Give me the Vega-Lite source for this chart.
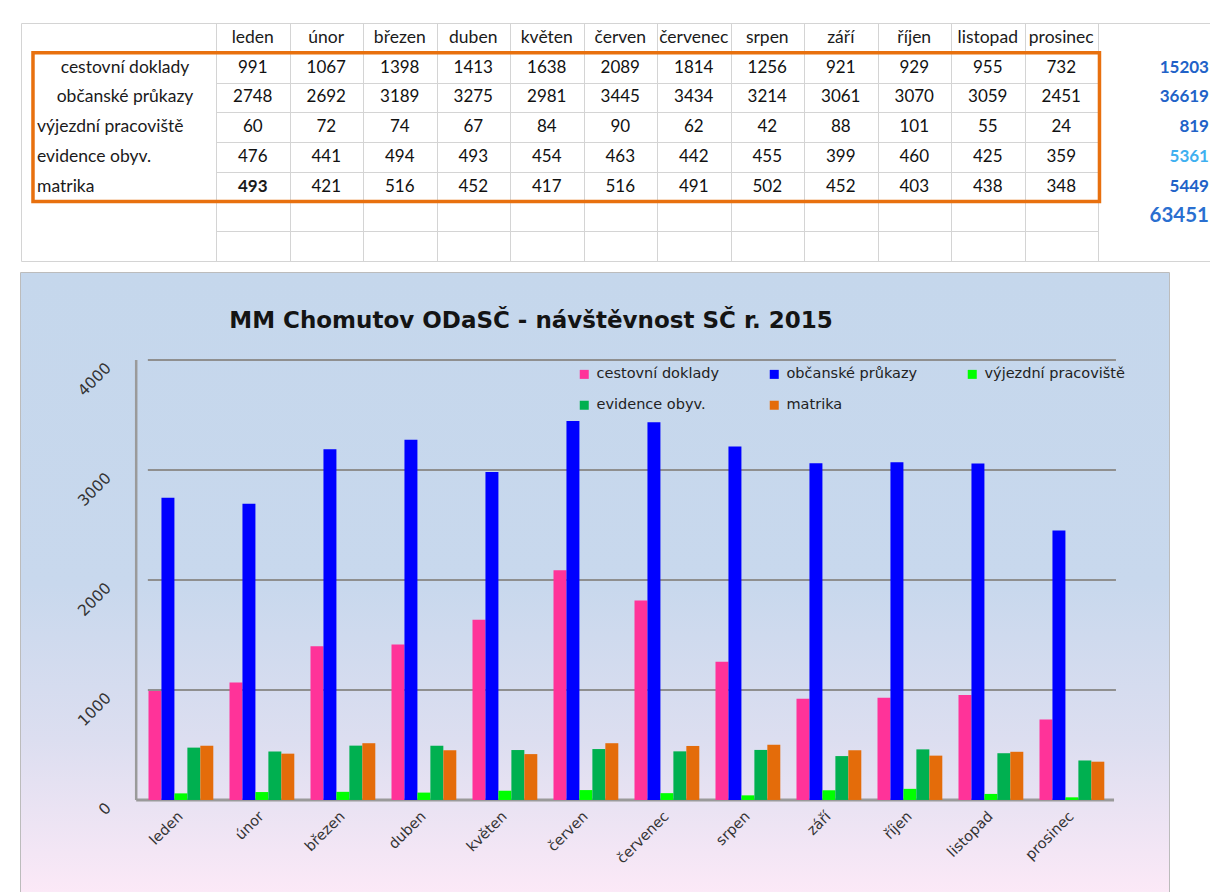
{
  "$schema": "https://vega.github.io/schema/vega-lite/v6.json",
  "background": "white",
  "padding": {"left": 20, "top": 22, "right": 0, "bottom": 0},
  "autosize": {"type": "pad"},
  "spacing": 10,
  "resolve": {"legend": {"color": "independent"}, "scale": {"x": "independent", "y": "independent", "color": "independent"}},
  "config": {"font": "Lato"},
  "datasets": {
    "visits": [
      {"series": "cestovní doklady", "month": "leden", "value": 991},
      {"series": "cestovní doklady", "month": "únor", "value": 1067},
      {"series": "cestovní doklady", "month": "březen", "value": 1398},
      {"series": "cestovní doklady", "month": "duben", "value": 1413},
      {"series": "cestovní doklady", "month": "květen", "value": 1638},
      {"series": "cestovní doklady", "month": "červen", "value": 2089},
      {"series": "cestovní doklady", "month": "červenec", "value": 1814},
      {"series": "cestovní doklady", "month": "srpen", "value": 1256},
      {"series": "cestovní doklady", "month": "září", "value": 921},
      {"series": "cestovní doklady", "month": "říjen", "value": 929},
      {"series": "cestovní doklady", "month": "listopad", "value": 955},
      {"series": "cestovní doklady", "month": "prosinec", "value": 732},
      {"series": "občanské průkazy", "month": "leden", "value": 2748},
      {"series": "občanské průkazy", "month": "únor", "value": 2692},
      {"series": "občanské průkazy", "month": "březen", "value": 3189},
      {"series": "občanské průkazy", "month": "duben", "value": 3275},
      {"series": "občanské průkazy", "month": "květen", "value": 2981},
      {"series": "občanské průkazy", "month": "červen", "value": 3445},
      {"series": "občanské průkazy", "month": "červenec", "value": 3434},
      {"series": "občanské průkazy", "month": "srpen", "value": 3214},
      {"series": "občanské průkazy", "month": "září", "value": 3061},
      {"series": "občanské průkazy", "month": "říjen", "value": 3070},
      {"series": "občanské průkazy", "month": "listopad", "value": 3059},
      {"series": "občanské průkazy", "month": "prosinec", "value": 2451},
      {"series": "výjezdní pracoviště", "month": "leden", "value": 60},
      {"series": "výjezdní pracoviště", "month": "únor", "value": 72},
      {"series": "výjezdní pracoviště", "month": "březen", "value": 74},
      {"series": "výjezdní pracoviště", "month": "duben", "value": 67},
      {"series": "výjezdní pracoviště", "month": "květen", "value": 84},
      {"series": "výjezdní pracoviště", "month": "červen", "value": 90},
      {"series": "výjezdní pracoviště", "month": "červenec", "value": 62},
      {"series": "výjezdní pracoviště", "month": "srpen", "value": 42},
      {"series": "výjezdní pracoviště", "month": "září", "value": 88},
      {"series": "výjezdní pracoviště", "month": "říjen", "value": 101},
      {"series": "výjezdní pracoviště", "month": "listopad", "value": 55},
      {"series": "výjezdní pracoviště", "month": "prosinec", "value": 24},
      {"series": "evidence obyv.", "month": "leden", "value": 476},
      {"series": "evidence obyv.", "month": "únor", "value": 441},
      {"series": "evidence obyv.", "month": "březen", "value": 494},
      {"series": "evidence obyv.", "month": "duben", "value": 493},
      {"series": "evidence obyv.", "month": "květen", "value": 454},
      {"series": "evidence obyv.", "month": "červen", "value": 463},
      {"series": "evidence obyv.", "month": "červenec", "value": 442},
      {"series": "evidence obyv.", "month": "srpen", "value": 455},
      {"series": "evidence obyv.", "month": "září", "value": 399},
      {"series": "evidence obyv.", "month": "říjen", "value": 460},
      {"series": "evidence obyv.", "month": "listopad", "value": 425},
      {"series": "evidence obyv.", "month": "prosinec", "value": 359},
      {"series": "matrika", "month": "leden", "value": 493},
      {"series": "matrika", "month": "únor", "value": 421},
      {"series": "matrika", "month": "březen", "value": 516},
      {"series": "matrika", "month": "duben", "value": 452},
      {"series": "matrika", "month": "květen", "value": 417},
      {"series": "matrika", "month": "červen", "value": 516},
      {"series": "matrika", "month": "červenec", "value": 491},
      {"series": "matrika", "month": "srpen", "value": 502},
      {"series": "matrika", "month": "září", "value": 452},
      {"series": "matrika", "month": "říjen", "value": 403},
      {"series": "matrika", "month": "listopad", "value": 438},
      {"series": "matrika", "month": "prosinec", "value": 348}
    ],
    "totals": [
      {"series": "cestovní doklady", "total": 15203},
      {"series": "občanské průkazy", "total": 36619},
      {"series": "výjezdní pracoviště", "total": 819},
      {"series": "evidence obyv.", "total": 5361},
      {"series": "matrika", "total": 5449},
      {"series": "celkem", "total": 63451}
    ],
    "gridlines": [
      {"v": 0}, {"v": 1000}, {"v": 2000}, {"v": 3000}, {"v": 4000}
    ]
  },
  "vconcat": [
    {
      "width": 1190,
      "height": 238,
      "view": {"stroke": "#d4d4d4", "strokeWidth": 1},
      "layer": [
        {
          "data": {"name": "visits"},
          "transform": [{"filter": "datum.series === 'matrika'"}],
          "mark": {"type": "text", "font": "Lato", "fontSize": 17.5, "color": "#1a1a1a"},
          "encoding": {
            "x": {"field": "month", "type": "nominal", "scale": {"domain": ["leden","únor","březen","duben","květen","červen","červenec","srpen","září","říjen","listopad","prosinec"], "paddingInner": 0, "paddingOuter": 0, "rangeMin": 195, "rangeMax": 1077}, "axis": {"orient": "top", "grid": true, "tickBand": "extent", "labels": false, "ticks": false, "domain": false, "title": null, "gridColor": "#d4d4d4", "gridWidth": 1}},
            "y": {"datum": "header", "type": "nominal", "scale": {"domain": ["header","cestovní doklady","občanské průkazy","výjezdní pracoviště","evidence obyv.","matrika","celkem","blank"], "paddingInner": 0, "paddingOuter": 0}, "axis": {"grid": true, "tickBand": "extent", "labels": false, "ticks": false, "domain": false, "title": null, "gridColor": "#d4d4d4", "gridWidth": 1}},
            "text": {"field": "month"}
          }
        },
        {
          "data": {"name": "visits"},
          "transform": [{"filter": "!(datum.series === 'matrika' && datum.month === 'leden')"}],
          "mark": {"type": "text", "font": "Lato", "fontSize": 17, "color": "#111111"},
          "encoding": {
            "x": {"field": "month", "type": "nominal", "scale": {"domain": ["leden","únor","březen","duben","květen","červen","červenec","srpen","září","říjen","listopad","prosinec"], "paddingInner": 0, "paddingOuter": 0, "rangeMin": 195, "rangeMax": 1077}, "axis": {"orient": "top", "grid": true, "tickBand": "extent", "labels": false, "ticks": false, "domain": false, "title": null, "gridColor": "#d4d4d4", "gridWidth": 1}},
            "y": {"field": "series", "type": "nominal", "scale": {"domain": ["header","cestovní doklady","občanské průkazy","výjezdní pracoviště","evidence obyv.","matrika","celkem","blank"], "paddingInner": 0, "paddingOuter": 0}, "axis": {"grid": true, "tickBand": "extent", "labels": false, "ticks": false, "domain": false, "title": null, "gridColor": "#d4d4d4", "gridWidth": 1}},
            "text": {"field": "value"}
          }
        },
        {
          "data": {"name": "visits"},
          "transform": [{"filter": "datum.series === 'matrika' && datum.month === 'leden'"}],
          "mark": {"type": "text", "font": "Lato", "fontSize": 17, "fontWeight": "bold", "color": "#1a1a1a"},
          "encoding": {
            "x": {"field": "month", "type": "nominal", "scale": {"domain": ["leden","únor","březen","duben","květen","červen","červenec","srpen","září","říjen","listopad","prosinec"], "paddingInner": 0, "paddingOuter": 0, "rangeMin": 195, "rangeMax": 1077}, "axis": {"orient": "top", "grid": true, "tickBand": "extent", "labels": false, "ticks": false, "domain": false, "title": null, "gridColor": "#d4d4d4", "gridWidth": 1}},
            "y": {"field": "series", "type": "nominal", "scale": {"domain": ["header","cestovní doklady","občanské průkazy","výjezdní pracoviště","evidence obyv.","matrika","celkem","blank"], "paddingInner": 0, "paddingOuter": 0}, "axis": {"grid": true, "tickBand": "extent", "labels": false, "ticks": false, "domain": false, "title": null, "gridColor": "#d4d4d4", "gridWidth": 1}},
            "text": {"field": "value"}
          }
        },
        {
          "data": {"name": "visits"},
          "transform": [{"filter": "datum.month === 'leden' && (datum.series === 'cestovní doklady' || datum.series === 'občanské průkazy')"}],
          "mark": {"type": "text", "font": "Lato", "fontSize": 17.5, "color": "#1a1a1a", "align": "center"},
          "encoding": {
            "x": {"datum": "leden", "type": "nominal", "bandPosition": -1.238, "scale": {"domain": ["leden","únor","březen","duben","květen","červen","červenec","srpen","září","říjen","listopad","prosinec"], "paddingInner": 0, "paddingOuter": 0, "rangeMin": 195, "rangeMax": 1077}, "axis": {"orient": "top", "grid": true, "tickBand": "extent", "labels": false, "ticks": false, "domain": false, "title": null, "gridColor": "#d4d4d4", "gridWidth": 1}},
            "y": {"field": "series", "type": "nominal", "scale": {"domain": ["header","cestovní doklady","občanské průkazy","výjezdní pracoviště","evidence obyv.","matrika","celkem","blank"], "paddingInner": 0, "paddingOuter": 0}, "axis": {"grid": true, "tickBand": "extent", "labels": false, "ticks": false, "domain": false, "title": null, "gridColor": "#d4d4d4", "gridWidth": 1}},
            "text": {"field": "series"}
          }
        },
        {
          "data": {"name": "visits"},
          "transform": [{"filter": "datum.month === 'leden' && datum.series !== 'cestovní doklady' && datum.series !== 'občanské průkazy'"}],
          "mark": {"type": "text", "font": "Lato", "fontSize": 17.5, "color": "#1a1a1a", "align": "left"},
          "encoding": {
            "x": {"datum": "leden", "type": "nominal", "bandPosition": -2.435, "scale": {"domain": ["leden","únor","březen","duben","květen","červen","červenec","srpen","září","říjen","listopad","prosinec"], "paddingInner": 0, "paddingOuter": 0, "rangeMin": 195, "rangeMax": 1077}, "axis": {"orient": "top", "grid": true, "tickBand": "extent", "labels": false, "ticks": false, "domain": false, "title": null, "gridColor": "#d4d4d4", "gridWidth": 1}},
            "y": {"field": "series", "type": "nominal", "scale": {"domain": ["header","cestovní doklady","občanské průkazy","výjezdní pracoviště","evidence obyv.","matrika","celkem","blank"], "paddingInner": 0, "paddingOuter": 0}, "axis": {"grid": true, "tickBand": "extent", "labels": false, "ticks": false, "domain": false, "title": null, "gridColor": "#d4d4d4", "gridWidth": 1}},
            "text": {"field": "series"}
          }
        },
        {
          "data": {"name": "totals"},
          "transform": [{"filter": "datum.series !== 'celkem'"}],
          "mark": {"type": "text", "font": "Lato", "fontSize": 17, "fontWeight": "bold", "align": "right"},
          "encoding": {
            "x": {"datum": "prosinec", "type": "nominal", "bandPosition": 2.51, "scale": {"domain": ["leden","únor","březen","duben","květen","červen","červenec","srpen","září","říjen","listopad","prosinec"], "paddingInner": 0, "paddingOuter": 0, "rangeMin": 195, "rangeMax": 1077}, "axis": {"orient": "top", "grid": true, "tickBand": "extent", "labels": false, "ticks": false, "domain": false, "title": null, "gridColor": "#d4d4d4", "gridWidth": 1}},
            "y": {"field": "series", "type": "nominal", "scale": {"domain": ["header","cestovní doklady","občanské průkazy","výjezdní pracoviště","evidence obyv.","matrika","celkem","blank"], "paddingInner": 0, "paddingOuter": 0}, "axis": {"grid": true, "tickBand": "extent", "labels": false, "ticks": false, "domain": false, "title": null, "gridColor": "#d4d4d4", "gridWidth": 1}},
            "text": {"field": "total"},
            "color": {"condition": {"test": "datum.series === 'evidence obyv.'", "value": "#3fb0f0"}, "value": "#2162c8"}
          }
        },
        {
          "data": {"name": "totals"},
          "transform": [{"filter": "datum.series === 'celkem'"}],
          "mark": {"type": "text", "font": "Lato", "fontSize": 20.5, "fontWeight": "bold", "align": "right", "color": "#2a6fd0"},
          "encoding": {
            "x": {"datum": "prosinec", "type": "nominal", "bandPosition": 2.51, "scale": {"domain": ["leden","únor","březen","duben","květen","červen","červenec","srpen","září","říjen","listopad","prosinec"], "paddingInner": 0, "paddingOuter": 0, "rangeMin": 195, "rangeMax": 1077}, "axis": {"orient": "top", "grid": true, "tickBand": "extent", "labels": false, "ticks": false, "domain": false, "title": null, "gridColor": "#d4d4d4", "gridWidth": 1}},
            "y": {"field": "series", "type": "nominal", "scale": {"domain": ["header","cestovní doklady","občanské průkazy","výjezdní pracoviště","evidence obyv.","matrika","celkem","blank"], "paddingInner": 0, "paddingOuter": 0}, "axis": {"grid": true, "tickBand": "extent", "labels": false, "ticks": false, "domain": false, "title": null, "gridColor": "#d4d4d4", "gridWidth": 1}},
            "text": {"field": "total"}
          }
        },
        {
          "data": {"name": "visits"},
          "transform": [{"filter": "datum.series === 'matrika' && datum.month === 'leden'"}],
          "mark": {"type": "rect", "fill": "transparent", "stroke": "#e8700e", "strokeWidth": 3.5},
          "encoding": {
            "x": {"datum": "leden", "type": "nominal", "bandPosition": -2.49, "scale": {"domain": ["leden","únor","březen","duben","květen","červen","červenec","srpen","září","říjen","listopad","prosinec"], "paddingInner": 0, "paddingOuter": 0, "rangeMin": 195, "rangeMax": 1077}, "axis": {"orient": "top", "grid": true, "tickBand": "extent", "labels": false, "ticks": false, "domain": false, "title": null, "gridColor": "#d4d4d4", "gridWidth": 1}},
            "x2": {"datum": "prosinec", "bandPosition": 1.02},
            "y": {"datum": "cestovní doklady", "type": "nominal", "bandPosition": 0, "scale": {"domain": ["header","cestovní doklady","občanské průkazy","výjezdní pracoviště","evidence obyv.","matrika","celkem","blank"], "paddingInner": 0, "paddingOuter": 0}, "axis": {"grid": true, "tickBand": "extent", "labels": false, "ticks": false, "domain": false, "title": null, "gridColor": "#d4d4d4", "gridWidth": 1}},
            "y2": {"datum": "matrika", "bandPosition": 1}
          }
        }
      ]
    },
    {
      "width": 1148,
      "height": 622,
      "view": {"stroke": "#a6a6a6", "strokeWidth": 1.5},
      "title": {"text": "MM Chomutov ODaSČ - návštěvnost  SČ r. 2015", "font": "DejaVu Sans", "fontSize": 23, "fontWeight": "bold", "color": "#141414", "anchor": "middle", "frame": "group", "offset": -78, "baseline": "alphabetic", "dx": -64},
      "layer": [
        {
          "data": {"name": "gridlines"},
          "transform": [{"filter": "datum.v === 0"}],
          "mark": {"type": "rect", "color": {"gradient": "linear", "x1": 0, "y1": 0, "x2": 0, "y2": 1, "stops": [{"offset": 0, "color": "#c5d7ec"}, {"offset": 0.5, "color": "#c8d8ed"}, {"offset": 0.75, "color": "#dcdef0"}, {"offset": 1, "color": "#fce9f7"}]}},
          "encoding": {
            "x": {"value": 0},
            "x2": {"value": "width"},
            "y": {"value": 0},
            "y2": {"value": "height"}
          }
        },
        {
          "data": {"name": "gridlines"},
          "transform": [{"filter": "datum.v > 0"}],
          "mark": {"type": "rule", "color": "#8f8f8f", "strokeWidth": 2},
          "encoding": {
            "x": {"datum": "leden", "type": "nominal", "bandPosition": -0.01, "scale": {"domain": ["leden","únor","březen","duben","květen","červen","červenec","srpen","září","říjen","listopad","prosinec"], "paddingInner": 0.2, "paddingOuter": 0.1, "rangeMin": 119.4, "rangeMax": 1091.4}, "axis": {"orient": "bottom", "offset": -87, "zindex": 2, "labelAngle": -45, "labelAlign": "right", "labelBaseline": "middle", "labelPadding": 6, "labelFont": "DejaVu Sans", "labelFontSize": 14.5, "labelColor": "#333333", "domain": false, "ticks": false, "grid": false, "title": null}},
            "x2": {"datum": "prosinec", "bandPosition": 1.18},
            "y": {"field": "v", "type": "quantitative", "scale": {"domain": [-864, 4791], "nice": false, "zero": false}, "axis": {"orient": "left", "offset": -115, "zindex": 2, "values": [0, 1000, 2000, 3000, 4000], "format": "d", "labelAngle": -45, "labelAlign": "right", "labelBaseline": "middle", "labelPadding": 28, "labelOffset": 5, "labelFont": "DejaVu Sans", "labelFontSize": 15.5, "labelColor": "#333333", "domain": false, "ticks": false, "grid": false, "title": null}}
          }
        },
        {
          "data": {"name": "gridlines"},
          "transform": [{"filter": "datum.v === 0"}],
          "mark": {"type": "rule", "color": "#9a9a9a", "strokeWidth": 3},
          "encoding": {
            "x": {"datum": "leden", "type": "nominal", "bandPosition": -0.19, "scale": {"domain": ["leden","únor","březen","duben","květen","červen","červenec","srpen","září","říjen","listopad","prosinec"], "paddingInner": 0.2, "paddingOuter": 0.1, "rangeMin": 119.4, "rangeMax": 1091.4}, "axis": {"orient": "bottom", "offset": -87, "zindex": 2, "labelAngle": -45, "labelAlign": "right", "labelBaseline": "middle", "labelPadding": 6, "labelFont": "DejaVu Sans", "labelFontSize": 14.5, "labelColor": "#333333", "domain": false, "ticks": false, "grid": false, "title": null}},
            "x2": {"datum": "prosinec", "bandPosition": 1.15},
            "y": {"field": "v", "type": "quantitative", "scale": {"domain": [-864, 4791], "nice": false, "zero": false}, "axis": {"orient": "left", "offset": -115, "zindex": 2, "values": [0, 1000, 2000, 3000, 4000], "format": "d", "labelAngle": -45, "labelAlign": "right", "labelBaseline": "middle", "labelPadding": 28, "labelOffset": 5, "labelFont": "DejaVu Sans", "labelFontSize": 15.5, "labelColor": "#333333", "domain": false, "ticks": false, "grid": false, "title": null}}
          }
        },
        {
          "data": {"name": "gridlines"},
          "transform": [{"filter": "datum.v === 0"}],
          "mark": {"type": "rule", "color": "#9a9a9a", "strokeWidth": 2.5},
          "encoding": {
            "x": {"datum": "leden", "type": "nominal", "bandPosition": -0.19, "scale": {"domain": ["leden","únor","březen","duben","květen","červen","červenec","srpen","září","říjen","listopad","prosinec"], "paddingInner": 0.2, "paddingOuter": 0.1, "rangeMin": 119.4, "rangeMax": 1091.4}, "axis": {"orient": "bottom", "offset": -87, "zindex": 2, "labelAngle": -45, "labelAlign": "right", "labelBaseline": "middle", "labelPadding": 6, "labelFont": "DejaVu Sans", "labelFontSize": 14.5, "labelColor": "#333333", "domain": false, "ticks": false, "grid": false, "title": null}},
            "y": {"datum": 0, "type": "quantitative", "scale": {"domain": [-864, 4791], "nice": false, "zero": false}, "axis": {"orient": "left", "offset": -115, "zindex": 2, "values": [0, 1000, 2000, 3000, 4000], "format": "d", "labelAngle": -45, "labelAlign": "right", "labelBaseline": "middle", "labelPadding": 28, "labelOffset": 5, "labelFont": "DejaVu Sans", "labelFontSize": 15.5, "labelColor": "#333333", "domain": false, "ticks": false, "grid": false, "title": null}},
            "y2": {"datum": 4000}
          }
        },
        {
          "data": {"name": "visits"},
          "mark": {"type": "bar"},
          "encoding": {
            "x": {"field": "month", "type": "nominal", "scale": {"domain": ["leden","únor","březen","duben","květen","červen","červenec","srpen","září","říjen","listopad","prosinec"], "paddingInner": 0.2, "paddingOuter": 0.1, "rangeMin": 119.4, "rangeMax": 1091.4}, "axis": {"orient": "bottom", "offset": -87, "zindex": 2, "labelAngle": -45, "labelAlign": "right", "labelBaseline": "middle", "labelPadding": 6, "labelFont": "DejaVu Sans", "labelFontSize": 14.5, "labelColor": "#333333", "domain": false, "ticks": false, "grid": false, "title": null}},
            "xOffset": {"field": "series", "type": "nominal", "scale": {"domain": ["cestovní doklady","občanské průkazy","výjezdní pracoviště","evidence obyv.","matrika"], "paddingInner": 0, "paddingOuter": 0}},
            "y": {"field": "value", "type": "quantitative", "scale": {"domain": [-864, 4791], "nice": false, "zero": false}, "axis": {"orient": "left", "offset": -115, "zindex": 2, "values": [0, 1000, 2000, 3000, 4000], "format": "d", "labelAngle": -45, "labelAlign": "right", "labelBaseline": "middle", "labelPadding": 28, "labelOffset": 5, "labelFont": "DejaVu Sans", "labelFontSize": 15.5, "labelColor": "#333333", "domain": false, "ticks": false, "grid": false, "title": null}},
            "color": {
              "field": "series", "type": "nominal",
              "scale": {"domain": ["cestovní doklady","občanské průkazy","výjezdní pracoviště","evidence obyv.","matrika"], "range": ["#ff3399", "#0000ff", "#00ff00", "#00b050", "#e46c0a"]},
              "legend": {"orient": "none", "legendX": 556, "legendY": 94, "columns": 3, "direction": "horizontal", "title": null, "symbolType": "square", "symbolSize": 81, "symbolStrokeWidth": 0, "labelFont": "DejaVu Sans", "labelFontSize": 14.5, "labelColor": "#222222", "labelOffset": 5, "columnPadding": 47, "rowPadding": 16, "gridAlign": "each", "labelLimit": 300, "zindex": 2}
            }
          }
        }
      ]
    }
  ]
}
